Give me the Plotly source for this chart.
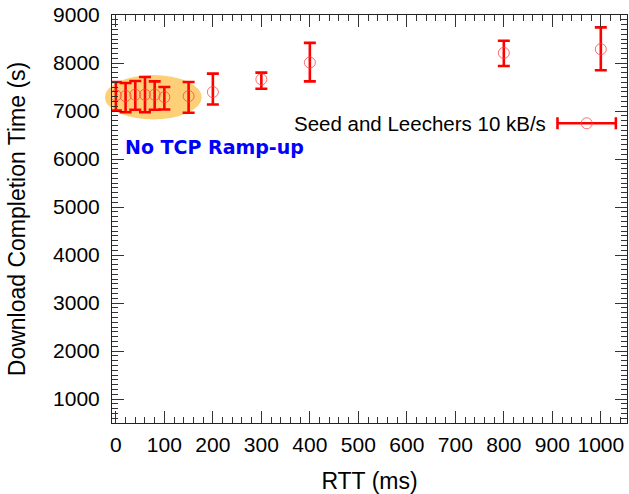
import plotly.graph_objects as go

rtt = [0, 20, 40, 60, 80, 100, 150, 200, 300, 400, 800, 1000]
mean_time = [7325, 7310, 7340, 7340, 7340, 7290, 7310, 7395, 7660, 8009, 8210, 8288]
err_plus = [278, 273, 285, 368, 278, 210, 293, 384, 140, 411, 252, 454]
err_minus = [315, 335, 315, 365, 315, 260, 348, 259, 195, 391, 272, 440]

series_name = "Seed and Leechers 10 kB/s"
note_text = "No TCP Ramp-up"
x_ticks = list(range(0, 1001, 100))
y_ticks = list(range(1000, 9001, 1000))

font_main = "Liberation Sans, Arial, sans-serif"
red = "rgb(255,0,0)"

fig = go.Figure()

fig.add_trace(go.Scatter(
    x=rtt, y=mean_time, mode="markers", showlegend=False,
    marker=dict(symbol="circle-open", size=11, color="rgba(255,60,60,0.75)",
                line=dict(width=1, color="rgba(255,60,60,0.75)")),
    error_y=dict(type="data", symmetric=False, array=err_plus, arrayminus=err_minus,
                 color=red, thickness=2.6, width=6),
))

# legend sample drawn on an invisible overlay axis
fig.add_trace(go.Scatter(
    x=[0.9217], y=[0.7346], xaxis="x2", yaxis="y2", mode="markers", showlegend=False,
    marker=dict(symbol="circle-open", size=11, color="rgba(255,60,60,0.75)",
                line=dict(width=1, color="rgba(255,60,60,0.75)")),
    error_x=dict(type="constant", value=0.0567, color=red, thickness=2.6, width=6),
))

axis_common = dict(
    showline=True, linecolor="#222", linewidth=1, mirror="allticks",
    ticks="inside", ticklen=12, tickwidth=1, tickcolor="#333",
    showgrid=False, zeroline=False,
    tickfont=dict(family=font_main, size=21, color="black"),
    title_font=dict(family=font_main, size=23, color="black"),
)

fig.update_layout(
    width=629, height=494,
    margin=dict(l=112, r=2, t=15, b=71),
    paper_bgcolor="white", plot_bgcolor="white",
    xaxis=dict(range=[-8, 1054], tickvals=x_ticks, ticktext=[str(v) for v in x_ticks],
               title=dict(text="RTT (ms)", standoff=19),
               ticklabelstandoff=3,
               minor=dict(dtick=20, ticks="inside", ticklen=6, tickcolor="#333", tick0=0),
               **axis_common),
    yaxis=dict(range=[500, 9000], tickvals=y_ticks, ticktext=[str(v) for v in y_ticks],
               title=dict(text="Download Completion Time (s)", standoff=21),
               ticklabelstandoff=7,
               minor=dict(dtick=100, ticks="inside", ticklen=6, tickcolor="#333", tick0=0),
               **axis_common),
    xaxis2=dict(range=[0, 1], overlaying="x", visible=False, fixedrange=True),
    yaxis2=dict(range=[0, 1], overlaying="y", visible=False, fixedrange=True),
    shapes=[dict(type="circle", xref="paper", yref="paper",
                 x0=-0.0136, x1=0.174, y0=0.744, y1=0.853,
                 fillcolor="rgb(253,208,120)", line=dict(width=0), layer="below")],
    annotations=[
        dict(text=note_text, xref="paper", yref="paper", x=0.0208, y=0.676,
             xanchor="left", yanchor="middle", showarrow=False,
             font=dict(family="DejaVu Sans", size=19, color="rgb(0,0,255)", weight="bold")),
        dict(text=series_name, xref="paper", yref="paper", x=0.846, y=0.7346,
             xanchor="right", yanchor="middle", showarrow=False,
             font=dict(family=font_main, size=20.5, color="black")),
    ],
)

fig.write_html("out.html")
